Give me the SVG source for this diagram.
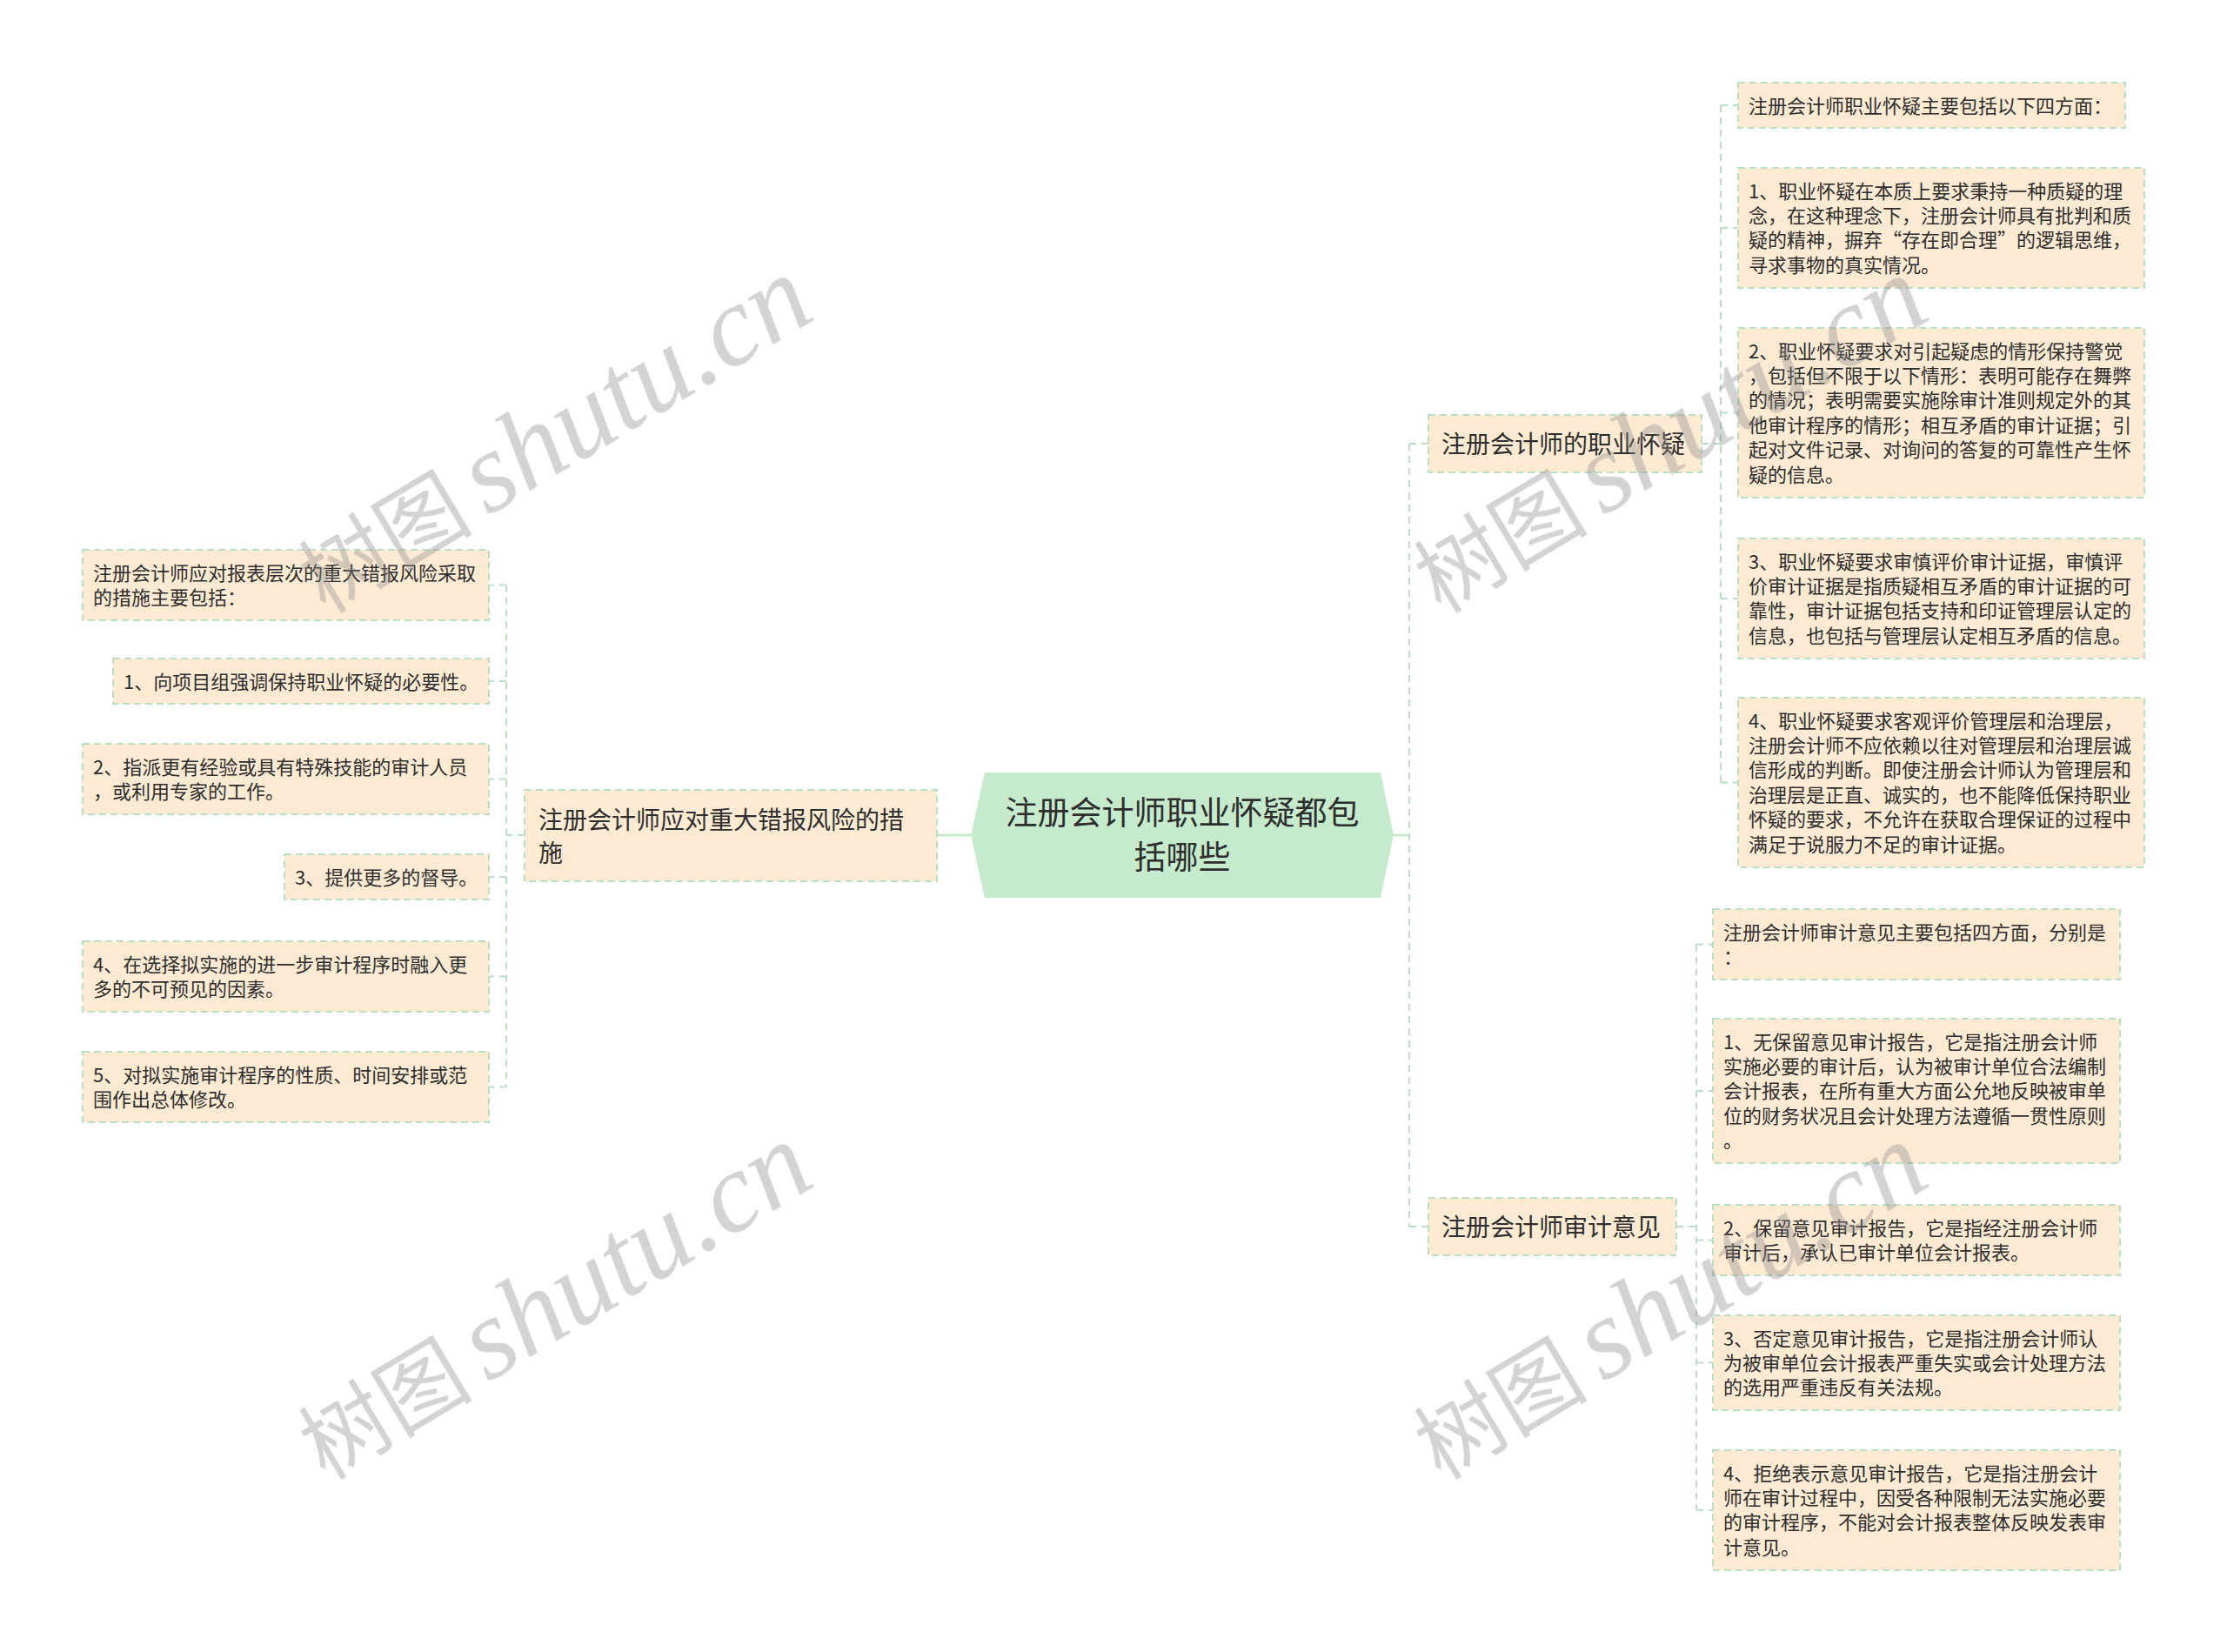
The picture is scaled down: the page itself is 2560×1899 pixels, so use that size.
<svg xmlns="http://www.w3.org/2000/svg" width="2560" height="1899" viewBox="0 0 2560 1899">
<style>
.bg{fill:#ffffff}
.box{fill:#fcead3;stroke:#b9e0c3;stroke-width:2;stroke-dasharray:8 5}
.center{fill:#c5eacc}
.t{font-family:"Noto Sans CJK SC","Noto Sans",sans-serif;fill:#2e2e2e}
.s22{font-size:22px}
.s28{font-size:28px}
.s37{font-size:37px}
.dash{fill:none;stroke:#b9e0c3;stroke-width:2;stroke-dasharray:8 6}
.solid{fill:none;stroke:#c5eacc;stroke-width:3}
.wm{fill:#8a8a8a;opacity:0.38}
.wcjk{font-family:"Noto Sans CJK SC",sans-serif;font-size:100px}
.wlat{font-family:"Liberation Serif",serif;font-style:italic;font-size:132px}
</style>
<rect class="bg" x="0" y="0" width="2560" height="1899"/>

<g id="connectors">
  <path class="solid" d="M1116,960 H1077"/>
  <path class="solid" d="M1602,960 H1620"/>
  <path class="dash" d="M1620,510 V1410 M1620,510 H1642 M1620,1410 H1642"/>
  <path class="dash" d="M1956,510 H1978 M1978,121 V899.5 M1978,121 H1998 M1978,262 H1998 M1978,474.5 H1998 M1978,688 H1998 M1978,899.5 H1998"/>
  <path class="dash" d="M1927,1410 H1950 M1950,1085.5 V1736 M1950,1085.5 H1969 M1950,1254 H1969 M1950,1425.5 H1969 M1950,1566.5 H1969 M1950,1736 H1969"/>
  <path class="dash" d="M603,960 H582 M582,672.5 V1249.5 M582,672.5 H562 M582,783 H562 M582,895.5 H562 M582,1008 H562 M582,1122.5 H562 M582,1249.5 H562"/>
</g>

<g id="root">
  <polygon class="center" points="1116,960 1132,888 1587,888 1602,960 1587,1032 1132,1032"/>
  <text class="t s37" text-anchor="middle" x="1359" y="948">注册会计师职业怀疑都包</text>
  <text class="t s37" text-anchor="middle" x="1359" y="999">括哪些</text>
</g>

<g id="branch-a">
  <rect class="box" x="1642" y="477" width="314" height="66"/>
  <text class="t s28" x="1657" y="520.5">注册会计师的职业怀疑</text>
</g>
<g id="branch-b">
  <rect class="box" x="1642" y="1377" width="285" height="66"/>
  <text class="t s28" x="1657" y="1420.5">注册会计师审计意见</text>
</g>
<g id="branch-c">
  <rect class="box" x="603" y="908" width="474" height="105"/>
  <text class="t s28" x="619" y="952.5"><tspan x="619">注册会计师应对重大错报风险的措</tspan><tspan x="619" dy="38">施</tspan></text>
</g>

<g id="a1">
  <rect class="box" x="1998" y="95" width="445" height="52"/>
  <text class="t s22" x="2010" y="129.5">注册会计师职业怀疑主要包括以下四方面：</text>
</g>
<g id="a2">
  <rect class="box" x="1998" y="193" width="467" height="138"/>
  <text class="t s22" y="227.5"><tspan x="2010">1、职业怀疑在本质上要求秉持一种质疑的理</tspan><tspan x="2010" dy="28.4">念，在这种理念下，注册会计师具有批判和质</tspan><tspan x="2010" dy="28.4">疑的精神，摒弃“存在即合理”的逻辑思维，</tspan><tspan x="2010" dy="28.4">寻求事物的真实情况。</tspan></text>
</g>
<g id="a3">
  <rect class="box" x="1998" y="377" width="467" height="195"/>
  <text class="t s22" y="411.5"><tspan x="2010">2、职业怀疑要求对引起疑虑的情形保持警觉</tspan><tspan x="2010" dy="28.4">，包括但不限于以下情形：表明可能存在舞弊</tspan><tspan x="2010" dy="28.4">的情况；表明需要实施除审计准则规定外的其</tspan><tspan x="2010" dy="28.4">他审计程序的情形；相互矛盾的审计证据；引</tspan><tspan x="2010" dy="28.4">起对文件记录、对询问的答复的可靠性产生怀</tspan><tspan x="2010" dy="28.4">疑的信息。</tspan></text>
</g>
<g id="a4">
  <rect class="box" x="1998" y="619" width="467" height="138"/>
  <text class="t s22" y="653.5"><tspan x="2010">3、职业怀疑要求审慎评价审计证据，审慎评</tspan><tspan x="2010" dy="28.4">价审计证据是指质疑相互矛盾的审计证据的可</tspan><tspan x="2010" dy="28.4">靠性，审计证据包括支持和印证管理层认定的</tspan><tspan x="2010" dy="28.4">信息，也包括与管理层认定相互矛盾的信息。</tspan></text>
</g>
<g id="a5">
  <rect class="box" x="1998" y="802" width="467" height="195"/>
  <text class="t s22" y="836.5"><tspan x="2010">4、职业怀疑要求客观评价管理层和治理层，</tspan><tspan x="2010" dy="28.4">注册会计师不应依赖以往对管理层和治理层诚</tspan><tspan x="2010" dy="28.4">信形成的判断。即使注册会计师认为管理层和</tspan><tspan x="2010" dy="28.4">治理层是正直、诚实的，也不能降低保持职业</tspan><tspan x="2010" dy="28.4">怀疑的要求，不允许在获取合理保证的过程中</tspan><tspan x="2010" dy="28.4">满足于说服力不足的审计证据。</tspan></text>
</g>

<g id="b1">
  <rect class="box" x="1969" y="1045" width="468" height="81"/>
  <text class="t s22" y="1079.5"><tspan x="1981">注册会计师审计意见主要包括四方面，分别是</tspan><tspan x="1981" dy="28.4">：</tspan></text>
</g>
<g id="b2">
  <rect class="box" x="1969" y="1171" width="468" height="166"/>
  <text class="t s22" y="1205.5"><tspan x="1981">1、无保留意见审计报告，它是指注册会计师</tspan><tspan x="1981" dy="28.4">实施必要的审计后，认为被审计单位合法编制</tspan><tspan x="1981" dy="28.4">会计报表，在所有重大方面公允地反映被审单</tspan><tspan x="1981" dy="28.4">位的财务状况且会计处理方法遵循一贯性原则</tspan><tspan x="1981" dy="28.4">。</tspan></text>
</g>
<g id="b3">
  <rect class="box" x="1969" y="1385" width="468" height="81"/>
  <text class="t s22" y="1419.5"><tspan x="1981">2、保留意见审计报告，它是指经注册会计师</tspan><tspan x="1981" dy="28.4">审计后，承认已审计单位会计报表。</tspan></text>
</g>
<g id="b4">
  <rect class="box" x="1969" y="1512" width="468" height="109"/>
  <text class="t s22" y="1546.5"><tspan x="1981">3、否定意见审计报告，它是指注册会计师认</tspan><tspan x="1981" dy="28.4">为被审单位会计报表严重失实或会计处理方法</tspan><tspan x="1981" dy="28.4">的选用严重违反有关法规。</tspan></text>
</g>
<g id="b5">
  <rect class="box" x="1969" y="1667" width="468" height="138"/>
  <text class="t s22" y="1701.5"><tspan x="1981">4、拒绝表示意见审计报告，它是指注册会计</tspan><tspan x="1981" dy="28.4">师在审计过程中，因受各种限制无法实施必要</tspan><tspan x="1981" dy="28.4">的审计程序，不能对会计报表整体反映发表审</tspan><tspan x="1981" dy="28.4">计意见。</tspan></text>
</g>

<g id="l1">
  <rect class="box" x="95" y="632" width="467" height="81"/>
  <text class="t s22" y="666.5"><tspan x="107">注册会计师应对报表层次的重大错报风险采取</tspan><tspan x="107" dy="28.4">的措施主要包括：</tspan></text>
</g>
<g id="l2">
  <rect class="box" x="130" y="757" width="432" height="52"/>
  <text class="t s22" x="142" y="791.5">1、向项目组强调保持职业怀疑的必要性。</text>
</g>
<g id="l3">
  <rect class="box" x="95" y="855" width="467" height="81"/>
  <text class="t s22" y="889.5"><tspan x="107">2、指派更有经验或具有特殊技能的审计人员</tspan><tspan x="107" dy="28.4">，或利用专家的工作。</tspan></text>
</g>
<g id="l4">
  <rect class="box" x="327" y="982" width="235" height="52"/>
  <text class="t s22" x="339" y="1016.5">3、提供更多的督导。</text>
</g>
<g id="l5">
  <rect class="box" x="95" y="1082" width="467" height="81"/>
  <text class="t s22" y="1116.5"><tspan x="107">4、在选择拟实施的进一步审计程序时融入更</tspan><tspan x="107" dy="28.4">多的不可预见的因素。</tspan></text>
</g>
<g id="l6">
  <rect class="box" x="95" y="1209" width="467" height="81"/>
  <text class="t s22" y="1243.5"><tspan x="107">5、对拟实施审计程序的性质、时间安排或范</tspan><tspan x="107" dy="28.4">围作出总体修改。</tspan></text>
</g>

<g id="watermarks" class="wm">
  <text transform="translate(374,706) rotate(-31)"><tspan class="wcjk">树图</tspan><tspan class="wlat" dx="18">shutu.cn</tspan></text>
  <text transform="translate(374,1702) rotate(-31)"><tspan class="wcjk">树图</tspan><tspan class="wlat" dx="18">shutu.cn</tspan></text>
  <text transform="translate(1656,706) rotate(-31)"><tspan class="wcjk">树图</tspan><tspan class="wlat" dx="18">shutu.cn</tspan></text>
  <text transform="translate(1656,1702) rotate(-31)"><tspan class="wcjk">树图</tspan><tspan class="wlat" dx="18">shutu.cn</tspan></text>
</g>
</svg>
